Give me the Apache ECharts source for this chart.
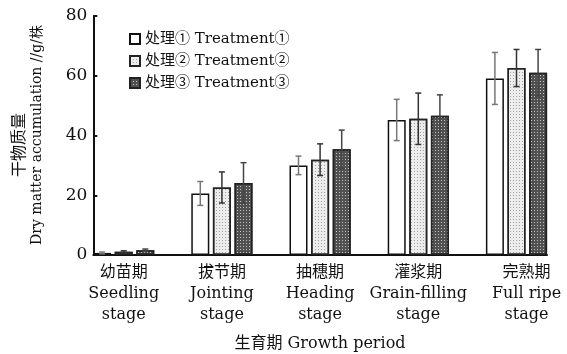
<!DOCTYPE html>
<html><head><meta charset="utf-8">
<script src="https://cdn.jsdelivr.net/npm/echarts@6/dist/echarts.min.js"></script>
<style>html,body{margin:0;padding:0;background:#fff}#c{width:567px;height:354px}</style>
</head><body><div id="c"></div>
<script>
const categories = ['幼苗期\nSeedling\nstage','拔节期\nJointing\nstage','抽穗期\nHeading\nstage','灌浆期\nGrain-filling\nstage','完熟期\nFull ripe\nstage'];
const seriesNames = ['处理① Treatment①','处理② Treatment②','处理③ Treatment③'];
const treatment1 = [0.7, 20.6, 30.0, 45.2, 59.1];
const treatment2 = [1.1, 22.6, 31.9, 45.6, 62.6];
const treatment3 = [1.6, 24.1, 35.4, 46.6, 61.0];
const err1 = [0.3, 4.0, 3.1, 6.9, 8.7];
const err2 = [0.3, 5.2, 5.3, 8.6, 6.2];
const err3 = [0.4, 6.8, 6.4, 7.0, 7.8];
const yTicks = [0, 20, 40, 60, 80];

const FONT = '"DejaVu Serif","Noto Sans CJK SC",serif';
const values = [treatment1, treatment2, treatment3];
const errs = [err1, err2, err3];
const BW = 18, GAP = 3.6;
const styles = [
  {color:'#ffffff', borderColor:'#111', borderWidth:1.5},
  {color:'#ededed', borderColor:'#222', borderWidth:1.5,
   decal:{symbol:'rect', symbolSize:1, dashArrayX:[1,2], dashArrayY:[1,2], color:'#a0a0a0'}},
  {color:'#505050', borderColor:'#222', borderWidth:1.5,
   decal:{symbol:'rect', symbolSize:1, dashArrayX:[1,2], dashArrayY:[1,2], color:'#c4c4c4'}}
];
const errColors = ['#777','#333','#444'];

const series = [];
values.forEach((v,i)=>{
  series.push({name:seriesNames[i], type:'bar', xAxisIndex:0, yAxisIndex:0,
    data:v, barWidth:BW, barGap:(GAP/BW*100)+'%', itemStyle:styles[i], z:2});
});
values.forEach((v,i)=>{
  series.push({type:'custom', xAxisIndex:0, yAxisIndex:0, z:5, silent:true,
    data:v.map((y,k)=>[k, y, errs[i][k]]),
    renderItem:function(params, api){
      const k = api.value(0), y = api.value(1), e = api.value(2);
      const c = api.coord([k, y]);
      const x = c[0] + (i-1)*(BW+GAP);
      const top = api.coord([k, y+e])[1];
      const bot = api.coord([k, y-e])[1];
      const st = {stroke:errColors[i], lineWidth:1.5};
      return {type:'group', children:[
        {type:'line', shape:{x1:x, y1:top, x2:x, y2:bot}, style:st},
        {type:'line', shape:{x1:x-3, y1:top, x2:x+3, y2:top}, style:st},
        {type:'line', shape:{x1:x-3, y1:bot, x2:x+3, y2:bot}, style:st}
      ]};
    }});
});

const chart = echarts.init(document.getElementById('c'), null, {renderer:'canvas'});
chart.setOption({
  animation:false,
  backgroundColor:'#fff',
  textStyle:{fontFamily:FONT},
  grid:[
    {left:74.6, right:1.4, top:16, bottom:99},
    {left:93.3, right:20, top:16, bottom:99}
  ],
  legend:{
    data:seriesNames, orient:'vertical', left:124, top:26, itemWidth:10, itemHeight:10,
    itemGap:6, icon:'rect',
    textStyle:{fontFamily:FONT, fontSize:15, color:'#111', lineHeight:16}
  },
  xAxis:[
    {type:'category', gridIndex:0, data:categories.map((c,k)=>k===4?{value:c,textStyle:{padding:[0,0,0,20]}}:c),
     axisLine:{show:false}, axisTick:{show:false},
     axisLabel:{interval:0, margin:7, fontFamily:FONT, fontSize:16, lineHeight:21, color:'#111'}},
    {type:'value', gridIndex:1, min:0, max:1, axisLine:{show:true, lineStyle:{color:'#111', width:2}},
     axisTick:{show:false}, axisLabel:{show:false}, splitLine:{show:false}}
  ],
  yAxis:[
    {type:'value', gridIndex:0, min:0, max:80, show:false},
    {type:'value', gridIndex:1, min:yTicks[0], max:yTicks[yTicks.length-1], interval:20,
     axisLine:{show:true, lineStyle:{color:'#111', width:2}},
     axisTick:{show:true, inside:true, length:4, lineStyle:{color:'#111', width:2}},
     axisLabel:{margin:6, fontFamily:FONT, fontSize:17, color:'#111'},
     splitLine:{show:false}}
  ],
  graphic:[
    {type:'text', x:320, y:344, style:{text:'生育期 Growth period', font:'16px '+FONT, fill:'#111', align:'center', verticalAlign:'middle'}},
    {type:'text', x:20, y:145, rotation:Math.PI/2, style:{text:'干物质量', font:'16px '+FONT, fill:'#111', align:'center', verticalAlign:'middle'}},
    {type:'text', x:37, y:135, rotation:Math.PI/2, style:{text:'Dry matter accumulation //g/株', font:'14px '+FONT, fill:'#111', align:'center', verticalAlign:'middle'}}
  ],
  series:series
});
</script></body></html>
